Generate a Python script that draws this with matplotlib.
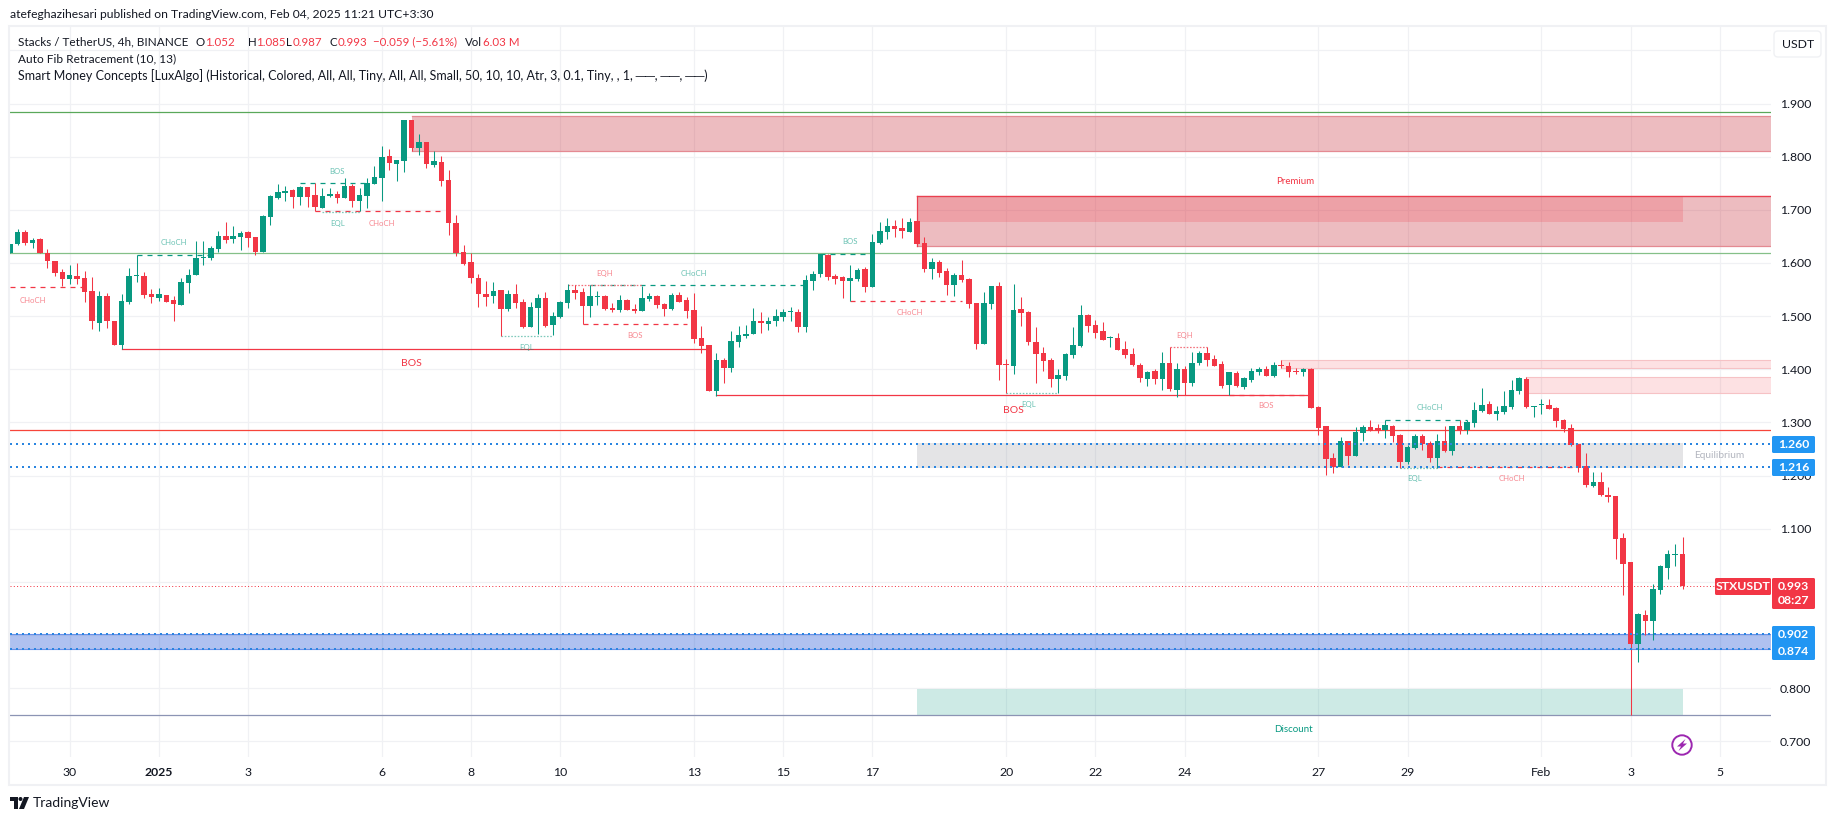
import matplotlib
matplotlib.use("Agg")
import matplotlib.pyplot as plt
from matplotlib.patches import Rectangle, FancyBboxPatch, Circle, Polygon

W, H = 1835, 821
GREEN = '#089981'
RED = '#F23645'
BLUE = '#2196F3'
GRID = '#f0f1f4'
TEXT = '#131722'
plt.rcParams['font.family'] = ['Lato', 'DejaVu Sans']

# 4h candles
opens = [1.618,1.636,1.658,1.638,1.645,1.618,1.604,1.583,1.570,1.576,
         1.572,1.547,1.488,1.538,1.491,1.446,1.527,1.575,1.576,1.542,
         1.534,1.540,1.530,1.521,1.562,1.577,1.610,1.609,1.626,1.651,
         1.645,1.649,1.658,1.649,1.621,1.687,1.722,1.732,1.737,1.724,
         1.743,1.728,1.703,1.726,1.730,1.722,1.745,1.717,1.726,1.749,
         1.760,1.801,1.786,1.792,1.869,1.816,1.828,1.784,1.790,1.756,
         1.675,1.621,1.602,1.572,1.542,1.538,1.549,1.514,1.542,1.527,
         1.480,1.515,1.534,1.483,1.498,1.525,1.549,1.546,1.519,1.536,
         1.538,1.515,1.512,1.530,1.514,1.510,1.532,1.538,1.523,1.514,
         1.540,1.530,1.512,1.459,1.446,1.359,1.418,1.403,1.451,1.463,
         1.466,1.491,1.485,1.491,1.498,1.507,1.508,1.480,1.566,1.579,
         1.615,1.576,1.574,1.566,1.570,1.589,1.555,1.638,1.658,1.670,
         1.666,1.658,1.679,1.638,1.589,1.602,1.585,1.559,1.577,1.570,
         1.525,1.448,1.523,1.557,1.410,1.406,1.514,1.508,1.451,1.431,
         1.418,1.382,1.387,1.427,1.444,1.502,1.483,1.472,1.458,1.459,
         1.438,1.429,1.408,1.382,1.397,1.382,1.412,1.361,1.401,1.374,
         1.412,1.431,1.419,1.410,1.371,1.393,1.367,1.380,1.395,1.401,
         1.387,1.408,1.406,1.397,1.395,1.401,1.329,1.293,1.233,1.216,
         1.265,1.237,1.280,1.292,1.290,1.286,1.293,1.277,1.226,1.252,
         1.275,1.261,1.233,1.265,1.246,1.293,1.286,1.299,1.322,1.335,
         1.316,1.320,1.329,1.359,1.382,1.329,1.332,1.333,1.327,1.305,
         1.290,1.260,1.218,1.181,1.188,1.164,1.162,1.083,1.038,0.883,
         0.938,0.927,0.985,1.026,1.051,1.052]
highs = [1.636,1.664,1.662,1.647,1.647,1.626,1.604,1.589,1.596,1.600,
         1.585,1.574,1.547,1.544,1.491,1.542,1.591,1.615,1.583,1.551,
         1.553,1.540,1.538,1.572,1.589,1.641,1.641,1.632,1.660,1.677,
         1.670,1.660,1.660,1.649,1.690,1.728,1.749,1.745,1.739,1.745,
         1.743,1.750,1.741,1.741,1.735,1.760,1.749,1.741,1.760,1.783,
         1.820,1.815,1.794,1.869,1.869,1.843,1.828,1.811,1.801,1.775,
         1.690,1.634,1.619,1.579,1.566,1.564,1.549,1.549,1.561,1.532,
         1.527,1.542,1.546,1.508,1.529,1.561,1.559,1.553,1.559,1.547,
         1.540,1.525,1.540,1.532,1.523,1.557,1.544,1.540,1.525,1.544,
         1.546,1.536,1.544,1.482,1.446,1.431,1.421,1.472,1.482,1.483,
         1.515,1.508,1.498,1.514,1.514,1.517,1.514,1.577,1.585,1.617,
         1.617,1.579,1.576,1.596,1.591,1.593,1.655,1.677,1.685,1.681,
         1.685,1.685,1.679,1.649,1.609,1.606,1.591,1.581,1.606,1.572,
         1.525,1.546,1.557,1.564,1.419,1.561,1.536,1.510,1.480,1.442,
         1.421,1.401,1.431,1.480,1.521,1.504,1.493,1.489,1.463,1.468,
         1.453,1.440,1.412,1.397,1.401,1.433,1.442,1.412,1.406,1.433,
         1.435,1.442,1.427,1.416,1.395,1.397,1.386,1.403,1.404,1.406,
         1.414,1.418,1.414,1.403,1.403,1.403,1.331,1.293,1.243,1.273,
         1.265,1.292,1.295,1.305,1.297,1.305,1.295,1.279,1.258,1.279,
         1.279,1.265,1.279,1.293,1.293,1.305,1.305,1.339,1.365,1.341,
         1.331,1.359,1.380,1.386,1.386,1.331,1.344,1.344,1.329,1.307,
         1.297,1.260,1.243,1.207,1.207,1.179,1.162,1.092,1.038,0.941,
         0.947,0.996,1.032,1.060,1.071,1.085]
lows = [1.618,1.633,1.634,1.629,1.618,1.591,1.576,1.556,1.561,1.561,
        1.527,1.476,1.473,1.478,1.445,1.438,1.522,1.565,1.534,1.525,
        1.529,1.527,1.491,1.521,1.544,1.577,1.596,1.606,1.621,1.638,
        1.638,1.624,1.630,1.615,1.621,1.672,1.720,1.717,1.703,1.709,
        1.705,1.697,1.703,1.724,1.713,1.722,1.705,1.697,1.703,1.749,
        1.717,1.775,1.754,1.771,1.811,1.803,1.779,1.781,1.745,1.653,
        1.613,1.596,1.562,1.517,1.519,1.525,1.462,1.510,1.515,1.478,
        1.480,1.466,1.480,1.464,1.497,1.515,1.532,1.485,1.498,1.521,
        1.512,1.508,1.508,1.512,1.506,1.510,1.529,1.515,1.500,1.512,
        1.527,1.497,1.450,1.431,1.359,1.350,1.374,1.395,1.442,1.459,
        1.466,1.468,1.474,1.482,1.491,1.491,1.470,1.470,1.549,1.574,
        1.568,1.561,1.534,1.528,1.566,1.546,1.555,1.636,1.645,1.649,
        1.647,1.658,1.636,1.583,1.570,1.574,1.540,1.538,1.564,1.515,
        1.438,1.448,1.514,1.380,1.355,1.391,1.482,1.446,1.374,1.397,
        1.367,1.355,1.380,1.421,1.442,1.470,1.459,1.455,1.442,1.436,
        1.421,1.406,1.376,1.369,1.372,1.361,1.359,1.348,1.352,1.369,
        1.408,1.406,1.406,1.365,1.352,1.367,1.363,1.376,1.389,1.387,
        1.386,1.403,1.386,1.391,1.387,1.327,1.277,1.201,1.205,1.216,
        1.220,1.237,1.265,1.284,1.280,1.271,1.263,1.214,1.222,1.250,
        1.248,1.226,1.214,1.244,1.239,1.279,1.279,1.292,1.320,1.316,
        1.305,1.316,1.325,1.354,1.327,1.310,1.316,1.325,1.292,1.282,
        1.256,1.207,1.179,1.179,1.162,1.150,1.043,0.976,0.750,0.850,
        0.900,0.891,0.977,1.006,1.030,0.987]
closes = [1.636,1.658,1.638,1.643,1.618,1.603,1.582,1.570,1.577,1.570,
          1.546,1.490,1.538,1.490,1.446,1.529,1.576,1.576,1.540,1.536,
          1.542,1.527,1.523,1.564,1.577,1.609,1.611,1.628,1.651,1.643,
          1.651,1.656,1.647,1.621,1.688,1.726,1.734,1.735,1.724,1.743,
          1.724,1.705,1.726,1.730,1.722,1.745,1.717,1.728,1.751,1.762,
          1.799,1.788,1.794,1.869,1.816,1.828,1.786,1.792,1.754,1.675,
          1.618,1.598,1.572,1.542,1.536,1.547,1.514,1.542,1.525,1.480,
          1.517,1.534,1.482,1.500,1.527,1.549,1.544,1.519,1.538,1.538,
          1.514,1.512,1.530,1.512,1.510,1.534,1.538,1.521,1.514,1.540,
          1.527,1.510,1.457,1.444,1.359,1.418,1.403,1.453,1.465,1.466,
          1.491,1.487,1.491,1.500,1.508,1.508,1.480,1.568,1.579,1.617,
          1.574,1.570,1.566,1.572,1.587,1.555,1.640,1.660,1.670,1.664,
          1.660,1.677,1.636,1.589,1.602,1.581,1.559,1.577,1.568,1.523,
          1.448,1.525,1.557,1.408,1.408,1.512,1.506,1.451,1.429,1.416,
          1.382,1.389,1.429,1.446,1.502,1.482,1.468,1.455,1.460,1.436,
          1.427,1.408,1.384,1.395,1.382,1.412,1.363,1.401,1.374,1.412,
          1.431,1.418,1.406,1.369,1.395,1.369,1.384,1.397,1.401,1.387,
          1.408,1.406,1.395,1.395,1.401,1.327,1.290,1.231,1.216,1.265,
          1.237,1.282,1.292,1.284,1.284,1.295,1.275,1.226,1.254,1.275,
          1.260,1.233,1.265,1.246,1.293,1.284,1.301,1.324,1.333,1.316,
          1.322,1.331,1.361,1.384,1.329,1.331,1.333,1.325,1.303,1.288,
          1.258,1.214,1.182,1.188,1.164,1.160,1.081,1.034,0.883,0.940,
          0.927,0.987,1.030,1.052,1.052,0.993]

# days counted from 1 Jan 2025, six candles a day
JAN1 = 20
day_offsets = [-2, 0, 2, 5, 7, 9, 12, 14, 16, 19, 21, 23, 26, 28, 31, 33, 35]
day_labels = ['30', '2025', '3', '6', '8', '10', '13', '15', '17', '20', '22', '24', '27', '29', 'Feb', '3', '5']
price_ticks = [0.7, 0.8, 0.9, 1.0, 1.1, 1.2, 1.3, 1.4, 1.5, 1.6, 1.7, 1.8, 1.9, 2.0]

# (start candle, end candle, price)
bos_solid = [(15, 94, 1.4375), (95, 175, 1.351)]
dash_green = [(17, 27, 1.6144), (39, 48, 1.750), (78, 107, 1.558), (109, 115, 1.6164), (185, 196, 1.304)]
dash_red = [(0, 10, 1.5556), (41, 58, 1.697), (77, 91, 1.4847), (113, 128, 1.528), (164, 175, 1.3522), (192, 211, 1.216)]
dot_green = [(42, 47, 1.696), (66, 73, 1.4625), (134, 141, 1.355), (187, 192, 1.215)]
dot_red = [(75, 85, 1.558), (156, 161, 1.4415)]

# (text, candle, price)
green_labels = [('CHoCH', 22, 1.639), ('BOS', 44, 1.772), ('EQL', 44, 1.675), ('EQL', 69.5, 1.441),
                ('CHoCH', 92, 1.5807), ('BOS', 113, 1.641), ('EQL', 137, 1.334), ('CHoCH', 191, 1.329),
                ('EQL', 189, 1.195)]
red_labels = [('CHoCH', 3, 1.529), ('CHoCH', 50, 1.675), ('EQH', 80, 1.5807), ('BOS', 84, 1.464),
              ('CHoCH', 121, 1.507), ('EQH', 158, 1.463), ('BOS', 169, 1.332), ('CHoCH', 202, 1.195)]
big_bos = [(54, 1.411), (134.9, 1.323)]

# order blocks and zones
red_blocks = [(54, 1.811, 1.876), (122, 1.6314, 1.7255)]
pink_blocks = [(171, 1.403, 1.4175), (204, 1.355, 1.385)]
LAST_CANDLE = 225

fig = plt.figure(figsize=(W / 100, H / 100), dpi=100, facecolor='white')
ax = fig.add_axes([10 / W, 1 - 757 / H, (1771 - 10) / W, (757 - 27) / H])
ax.set_xlim(-0.03, 236.9)
ax.set_ylim(0.6706, 2.0440)
right = 236.9

for s in ax.spines.values():
    s.set_visible(False)
ax.yaxis.tick_right()
ax.set_yticks(price_ticks)
ax.set_yticklabels(['' if p == 2.0 else '%.3f' % p for p in price_ticks], fontsize=8.8, color=TEXT)
ax.set_xticks([JAN1 + 6 * d for d in day_offsets])
ax.set_xticklabels(day_labels, fontsize=8.8, color=TEXT)
ax.get_xticklabels()[1].set_fontweight('bold')
ax.tick_params(axis='y', length=0, pad=6.5)
ax.tick_params(axis='x', length=0, pad=7.5)
ax.grid(True, color=GRID, lw=0.9, zorder=0)
ax.set_axisbelow(True)

# zones
for start, lo, hi in red_blocks:
    ax.add_patch(Rectangle((start, lo), right - start, hi - lo, fc='#C62330', ec='none', alpha=0.3, zorder=1))
    ax.plot([start, right], [lo, lo], color='#e48a92', lw=0.9, zorder=2)
    ax.plot([start, right], [hi, hi], color='#e48a92', lw=0.9, zorder=2)
ax.add_patch(Rectangle((122, 1.6777), LAST_CANDLE - 122, 1.7255 - 1.6777, fc=RED, ec='none', alpha=0.2, zorder=1))
ax.plot([122, right], [1.7255, 1.7255], color='#ea3f4f', lw=0.9, zorder=2)
ax.plot([122, 122], [1.6314, 1.7255], color='#ea3f4f', lw=0.9, zorder=2)
ax.add_patch(Rectangle((122, 1.215), LAST_CANDLE - 122, 1.261 - 1.215, fc='#787B86', ec='none', alpha=0.2, zorder=1))
ax.add_patch(Rectangle((122, 0.75), LAST_CANDLE - 122, 0.798 - 0.75, fc=GREEN, ec='none', alpha=0.2, zorder=1))
for start, lo, hi in pink_blocks:
    ax.add_patch(Rectangle((start, lo), right - start, hi - lo, fc=RED, ec='none', alpha=0.15, zorder=1))
    ax.plot([start, right], [lo, lo], color='#f6c2c5', lw=0.8, zorder=2)
    ax.plot([start, right], [hi, hi], color='#f6c2c5', lw=0.8, zorder=2)
ax.axhspan(0.874, 0.902, fc='#1A4ED4', ec='none', alpha=0.35, zorder=1)
ax.axhline(0.902, color='#6b90e8', lw=0.8, zorder=2)
ax.axhline(0.874, color='#6b90e8', lw=0.8, zorder=2)

# long horizontals
ax.axhline(1.885, color='#5aa85a', lw=0.9, zorder=2)
ax.axhline(1.618, color='#85c088', lw=0.9, zorder=2)
ax.axhline(1.285, color='#F7453A', lw=0.9, zorder=2)
ax.axhline(0.75, color='#8c94b4', lw=0.9, zorder=2)

# market structure
for a, b, p in bos_solid:
    ax.plot([a, b], [p, p], color=RED, lw=0.9, zorder=2)
for a, b, p in dash_green:
    ax.plot([a, b], [p, p], color=GREEN, lw=0.9, ls=(0, (4, 4)), zorder=2)
for a, b, p in dash_red:
    ax.plot([a, b], [p, p], color=RED, lw=0.9, ls=(0, (4, 4)), zorder=2)
for a, b, p in dot_green:
    ax.plot([a, b], [p, p], color='#7fc9bb', lw=0.9, ls=(0, (1.3, 1.3)), zorder=2)
for a, b, p in dot_red:
    ax.plot([a, b], [p, p], color='#f2727d', lw=0.9, ls=(0, (1.3, 1.3)), zorder=2)
for t, x, y in green_labels:
    ax.text(x, y, t, color=GREEN, alpha=0.6, fontsize=5.6, ha='center', va='center', zorder=3)
for t, x, y in red_labels:
    ax.text(x, y, t, color=RED, alpha=0.6, fontsize=5.6, ha='center', va='center', zorder=3)
for x, y in big_bos:
    ax.text(x, y, 'BOS', color=RED, fontsize=7.5, ha='center', va='center', zorder=3)
ax.text(172.9, 1.7533, 'Premium', color=RED, fontsize=7, ha='center', va='center', zorder=3)
ax.text(172.7, 0.7232, 'Discount', color=GREEN, fontsize=7, ha='center', va='center', zorder=3)
ax.text(229.9, 1.2375, 'Equilibrium', color='#b2b5be', fontsize=7.3, ha='center', va='center', zorder=3)

# candles
for i in range(len(opens)):
    c = GREEN if closes[i] >= opens[i] else RED
    ax.vlines(i, lows[i], highs[i], color=c, lw=0.75, zorder=4)
    body = max(abs(closes[i] - opens[i]), 0.0022)
    ax.bar(i, body, width=0.74, bottom=min(opens[i], closes[i]), color=c, lw=0, zorder=5)

# price lines
for p in [1.260, 1.216, 0.902, 0.874]:
    ax.axhline(p, color='#2a85e0', lw=1.44, ls=(0, (1, 2)), zorder=6)
ax.plot([0, 229.5], [closes[-1], closes[-1]], color=RED, lw=0.72, ls=(0, (1, 2.3)), zorder=3)

# everything around the chart, in pixels
ov = fig.add_axes([0, 0, 1, 1], zorder=10)
ov.set_xlim(0, W)
ov.set_ylim(H, 0)
ov.axis('off')
ov.patch.set_visible(False)
ov.add_patch(Rectangle((9, 26.5), 1825.5 - 9, 785.5 - 26.5, fc='none', ec=GRID, lw=1.5))
ov.text(10, 14.7, 'atefeghazihesari published on TradingView.com, Feb 04, 2025 11:21 UTC+3:30',
        fontsize=8.7, color=TEXT, va='center')
ov.text(18, 42, 'Stacks / TetherUS, 4h, BINANCE', fontsize=8.5, color=TEXT, va='center')
for t, x, col in [('O', 195.6, TEXT), ('1.052', 205.5, RED), ('H', 247.5, TEXT), ('1.085', 256.5, RED),
                  ('L', 286, TEXT), ('0.987', 292.5, RED), ('C', 329, TEXT), ('0.993', 338, RED),
                  ('−0.059 (−5.61%)', 373, RED), ('Vol', 465, TEXT), ('6.03 M', 482.5, RED)]:
    ov.text(x, 42, t, fontsize=8.3, color=col, va='center')
ov.text(18, 59, 'Auto Fib Retracement (10, 13)', fontsize=8.6, color=TEXT, va='center')
ov.text(18, 76, 'Smart Money Concepts [LuxAlgo] (Historical, Colored, All, All, Tiny, All, All, Small, 50, 10, 10, Atr, 3, 0.1, Tiny, , 1, ──, ──, ──)',
        fontsize=9, color=TEXT, va='center')

ov.add_patch(FancyBboxPatch((1777, 34), 41, 20, boxstyle='round,pad=3,rounding_size=4', fc='white', ec=GRID, lw=1))
ov.text(1798, 44.5, 'USDT', fontsize=8.8, color=TEXT, ha='center', va='center')


def tag(x0, x1, y0, y1, col, lines):
    ov.add_patch(FancyBboxPatch((x0 + 1, y0 + 1), x1 - x0 - 2, y1 - y0 - 2, boxstyle='round,pad=1,rounding_size=1.5',
                                fc=col, ec='none'))
    for t, yy in lines:
        ov.text((x0 + x1) / 2, yy, t, color='white', fontsize=8.8, fontweight='bold', ha='center', va='center')


tag(1772, 1815, 436, 453, BLUE, [('1.260', 444.5)])
tag(1772, 1815, 459, 476, BLUE, [('1.216', 467.5)])
tag(1772, 1815, 626, 660, BLUE, [('0.902', 634.5), ('0.874', 651.5)])
tag(1772, 1815, 578, 609, RED, [('0.993', 586.5), ('08:27', 600.5)])
tag(1715, 1771, 578, 595, RED, [('STXUSDT', 586.5)])

# lightning mark
ov.add_patch(Circle((1682, 745), 9.7, fc='white', ec='#9c27b0', lw=1.4))
ov.add_patch(Polygon([(1685.5, 739), (1677, 746.5), (1681, 746.5), (1678.5, 751), (1687, 743.5), (1683, 743.5)],
                     fc='#9c27b0', ec='none'))

# TradingView logo
ov.add_patch(Polygon([(10, 797), (18, 797), (18, 809), (14, 809), (14, 801), (10, 801)], fc=TEXT, ec='none'))
ov.add_patch(Circle((20.5, 799), 2, fc=TEXT, ec='none'))
ov.add_patch(Polygon([(24, 797), (29, 797), (24, 809), (19, 809)], fc=TEXT, ec='none'))
ov.text(33, 803, 'TradingView', fontsize=10, color=TEXT, va='center')

fig.savefig('out.png', dpi=100, facecolor='white')
